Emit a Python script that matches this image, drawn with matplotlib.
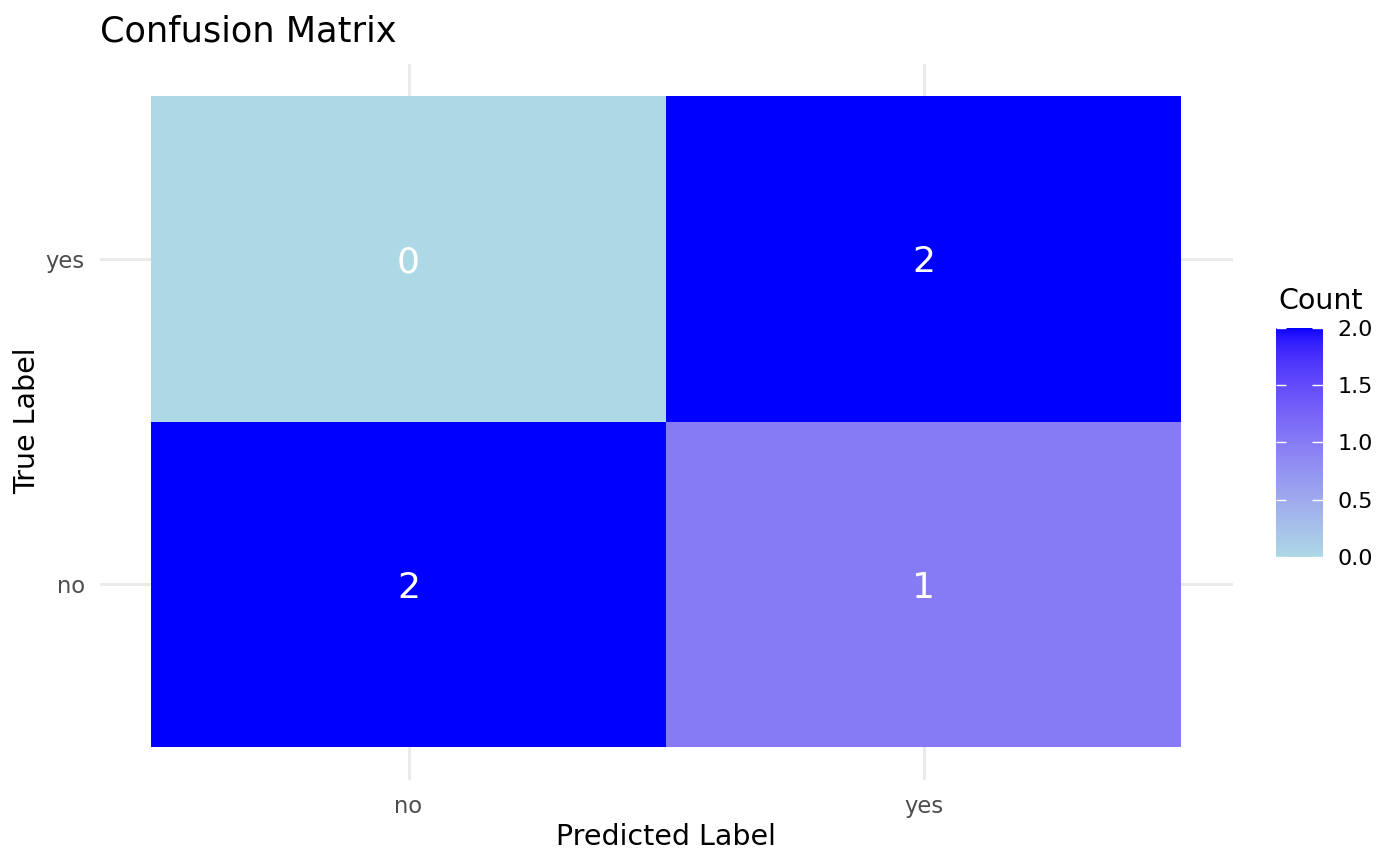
import numpy as np
import matplotlib.pyplot as plt
from matplotlib.colors import ListedColormap, to_rgb

# confusion matrix data
pred_labels = ["no", "yes"]
true_labels = ["no", "yes"]
# rows = true label (no, yes), cols = predicted label (no, yes)
counts = np.array([[2, 1],
                   [0, 2]], dtype=float)
cbar_ticks = [0.0, 0.5, 1.0, 1.5, 2.0]


# lab gradient lightblue -> blue (like ggplot scale_fill_gradient)
M = np.array([[0.4124, 0.3576, 0.1805],
              [0.2126, 0.7152, 0.0722],
              [0.0193, 0.1192, 0.9505]])
WHITE = np.array([0.95047, 1.0, 1.08883])


def to_lab(c):
    rgb = np.array(to_rgb(c))
    lin = np.where(rgb <= 0.04045, rgb / 12.92, ((rgb + 0.055) / 1.055) ** 2.4)
    xyz = M @ lin / WHITE
    f = np.where(xyz > 0.008856, np.cbrt(xyz), 7.787 * xyz + 16 / 116)
    return np.array([116 * f[1] - 16, 500 * (f[0] - f[1]), 200 * (f[1] - f[2])])


def from_lab(lab):
    fy = (lab[0] + 16) / 116
    f = np.array([fy + lab[1] / 500, fy, fy - lab[2] / 200])
    xyz = np.where(f ** 3 > 0.008856, f ** 3, (f - 16 / 116) / 7.787) * WHITE
    lin = np.linalg.solve(M, xyz)
    lin = np.clip(lin, 0, 1)
    rgb = np.where(lin <= 0.0031308, lin * 12.92, 1.055 * lin ** (1 / 2.4) - 0.055)
    return np.clip(rgb, 0, 1)


lo, hi = to_lab("lightblue"), to_lab("blue")
cmap = ListedColormap([from_lab(lo + t * (hi - lo)) for t in np.linspace(0, 1, 256)])

fig = plt.figure(figsize=(14, 8.66), dpi=100)
ax = fig.add_axes([99.5 / 1400, 86.5 / 866, 1133 / 1400, 716 / 866])

edges = np.arange(len(pred_labels) + 1) + 0.5
ax.pcolormesh(edges, edges, counts, cmap=cmap, vmin=0, vmax=2)
for i in range(len(true_labels)):
    for j in range(len(pred_labels)):
        ax.text(j + 1, i + 1, "%d" % counts[i, j], ha="center", va="center_baseline",
                color="white", fontsize=26)

ax.set_xlim(0.4, 2.6)
ax.set_ylim(0.4, 2.6)
ax.set_xticks([1, 2], pred_labels)
ax.set_yticks([1, 2], true_labels)
ax.tick_params(length=0, labelsize=16.3, labelcolor="#4D4D4D")
ax.tick_params(axis="x", pad=11)
ax.tick_params(axis="y", pad=10.5)
ax.grid(color="#EBEBEB", linewidth=2.2)
ax.set_axisbelow(True)
for s in ax.spines.values():
    s.set_visible(False)

fig.text(100 / 1400, 824 / 866, "Confusion Matrix", fontsize=25.3, ha="left", va="baseline")
fig.text(666 / 1400, 21 / 866, "Predicted Label", fontsize=20.5, ha="center", va="baseline")
fig.text(27 / 1400, (866 - 421) / 866, "True Label", fontsize=20.5, ha="center", va="center",
         rotation=90)

# colour bar legend
cax = fig.add_axes([1276 / 1400, 308.7 / 866, 46.5 / 1400, 229.6 / 866])
cax.imshow(np.linspace(0, 2, 300)[:, None], cmap=cmap, vmin=0, vmax=2,
           aspect="auto", origin="lower", extent=[0, 1, 0, 2])
cax.hlines(cbar_ticks, 0, 0.22, color="white", linewidth=1)
cax.hlines(cbar_ticks, 0.78, 1, color="white", linewidth=1)
cax.set_xlim(0, 1)
cax.set_ylim(0, 2)
cax.set_xticks([])
cax.yaxis.tick_right()
cax.set_yticks(cbar_ticks, ["%.1f" % t for t in cbar_ticks])
cax.tick_params(length=0, labelsize=16, pad=11)
for s in cax.spines.values():
    s.set_visible(False)
fig.text(1278 / 1400, 557 / 866, "Count", fontsize=20.5, ha="left", va="baseline")

plt.savefig("out.png")
